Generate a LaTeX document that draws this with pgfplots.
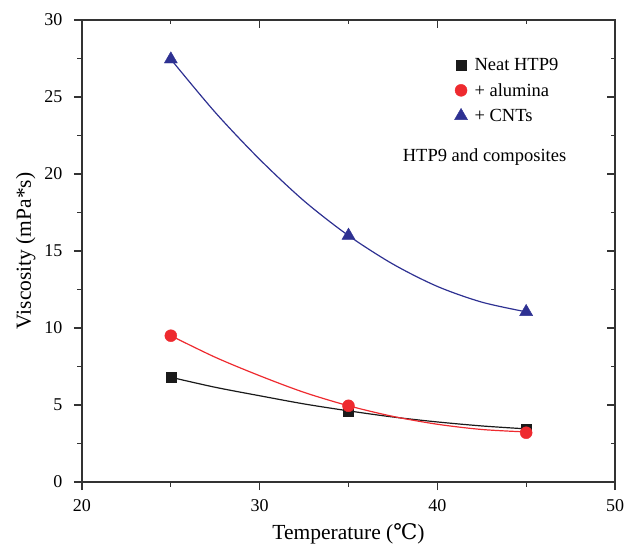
\documentclass[border=0pt]{standalone}
\usepackage{fontspec}
\setmainfont{Liberation Serif}
\newfontfamily\degfont{DejaVu Serif}
\usepackage{pgfplots}
\pgfplotsset{compat=1.18}
\definecolor{cblue}{HTML}{2E3192}
\definecolor{cred}{HTML}{EE2A2F}
\definecolor{cblack}{HTML}{1A1A1A}
\definecolor{axgray}{HTML}{333333}
\begin{document}
\begin{tikzpicture}
\pgfplotsset{
 common/.style={scale only axis, width=533pt, height=462pt,
   xmin=20, xmax=50, ymin=0, ymax=30,
   xtick={20,30,40,50}, ytick={0,5,...,30},
   minor x tick num=1, minor y tick num=1,
   axis line style={axgray, line width=1.2pt},
   every tick/.style={axgray, line width=1.2pt},
   major tick length=8pt, minor tick length=4.5pt}
}
\begin{axis}[common, tick align=outside, xtick pos=bottom, ytick pos=left,
  /pgf/number format/assume math mode=true,
  ticklabel style={font=\fontsize{18}{20}\selectfont},
  xticklabel style={yshift=-6pt},
  yticklabel style={xshift=-8pt},
  xlabel={Temperature ({\degfont ℃})}, ylabel={Viscosity (mPa*s)},
  label style={font=\fontsize{21.5}{24}\selectfont},
  xlabel style={at={(axis description cs:0.5,0)}, anchor=base, yshift=-57pt},
  ylabel style={at={(axis description cs:0,0.5)}, anchor=base, yshift=51pt},
  legend style={at={(0.693,0.927)}, anchor=north west, draw=none, fill=none,
    font=\fontsize{18.5}{22}\selectfont, row sep=7.5pt,
    /tikz/every odd column/.append style={column sep=5pt}},
  legend cell align=left]
% fitted curves
\addplot[cblack, line width=1.2pt, smooth, forget plot] coordinates {
 (25,6.8) (27.5,6.15) (30,5.6) (32.5,5.07) (35,4.62) (37.5,4.22) (40,3.9) (42.5,3.64) (45,3.45)};
\addplot[cred, line width=1.2pt, smooth, forget plot] coordinates {
 (25,9.5) (27.5,8.1) (30,6.9) (32.5,5.82) (35,4.95) (37.5,4.26) (40,3.75) (42.5,3.41) (45,3.25)};
\addplot[cblue, line width=1.2pt, smooth, forget plot] coordinates {
 (25,27.45) (27.5,24.0) (30,20.95) (32.5,18.25) (35,16.0) (37.5,14.15) (40,12.7) (42.5,11.68) (45,11.05)};
% measured points
\addplot[only marks, mark=square*, mark size=5pt, cblack] coordinates {(25,6.8) (35,4.6) (45,3.45)};
\addplot[only marks, mark=*, mark size=6pt, cred] coordinates {(25,9.5) (35,4.95) (45,3.2)};
\addplot[only marks, mark=triangle*, mark size=7.5pt, cblue] coordinates {(25,27.45) (35,16.0) (45,11.05)};
\legend{Neat HTP9, + alumina, + CNTs}
\node[font=\fontsize{18.5}{22}\selectfont] at (axis cs:42.66,21.1) {HTP9 and composites};
\coordinate (bl) at (rel axis cs:0,0);
\coordinate (tr) at (rel axis cs:1,1);
\end{axis}
\begin{axis}[common, tick align=inside, xtick pos=top, ytick pos=right,
  xticklabels={}, yticklabels={}]
\end{axis}
\pgfresetboundingbox
\path[use as bounding box] ([shift={(-82pt,-64pt)}]bl) rectangle ([shift={(9pt,20pt)}]tr);
\end{tikzpicture}
\end{document}
